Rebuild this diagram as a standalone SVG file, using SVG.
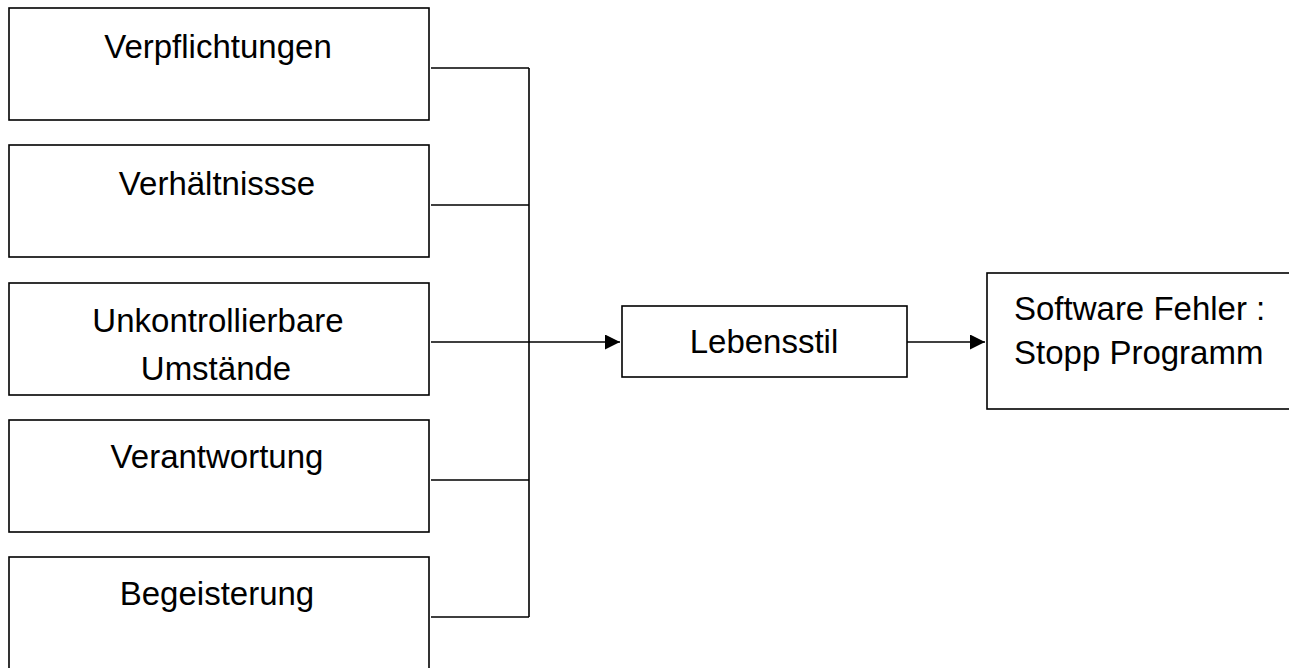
<svg xmlns="http://www.w3.org/2000/svg" width="1289" height="668" viewBox="0 0 1289 668">
<style>
.box{fill:#fff;stroke:#000;stroke-width:1.6}
.lbl{font-family:"Liberation Sans",Arial,sans-serif;font-size:33px;fill:#000}
.c{text-anchor:middle}
.ln{fill:none;stroke:#000;stroke-width:1.6}
</style>
<defs>
<marker id="ah" viewBox="0 0 10 10" refX="10" refY="5" markerWidth="16" markerHeight="15" markerUnits="userSpaceOnUse" orient="auto">
<path d="M0,0 L10,5 L0,10 z" fill="#000"/>
</marker>
</defs>
<rect width="1289" height="668" fill="#fff"/>
<g id="n1"><rect class="box" x="9" y="8" width="420" height="112"/><text class="lbl c" x="218" y="58">Verpflichtungen</text></g>
<g id="n2"><rect class="box" x="9" y="145" width="420" height="112"/><text class="lbl c" x="217" y="195">Verhältnissse</text></g>
<g id="n3"><rect class="box" x="9" y="283" width="420" height="112"/><text class="lbl c" x="218" y="332">Unkontrollierbare</text><text class="lbl c" x="216" y="380">Umstände</text></g>
<g id="n4"><rect class="box" x="9" y="420" width="420" height="112"/><text class="lbl c" x="217" y="468">Verantwortung</text></g>
<g id="n5"><rect class="box" x="9" y="557" width="420" height="130"/><text class="lbl c" x="217" y="605">Begeisterung</text></g>
<g id="n6"><rect class="box" x="622" y="306" width="285" height="71"/><text class="lbl c" x="764" y="353">Lebensstil</text></g>
<g id="n7"><rect class="box" x="987" y="273" width="320" height="136"/><text class="lbl" x="1014" y="320">Software Fehler :</text><text class="lbl" x="1014" y="364">Stopp Programm</text></g>
<g id="connectors">
<path class="ln" d="M431,68 H529 M431,205 H529 M431,342 H529 M431,480 H529 M431,617 H529 M529,68 V617"/>
<path class="ln" d="M529,342 H620" marker-end="url(#ah)"/>
<path class="ln" d="M907,342 H985" marker-end="url(#ah)"/>
</g>
</svg>
